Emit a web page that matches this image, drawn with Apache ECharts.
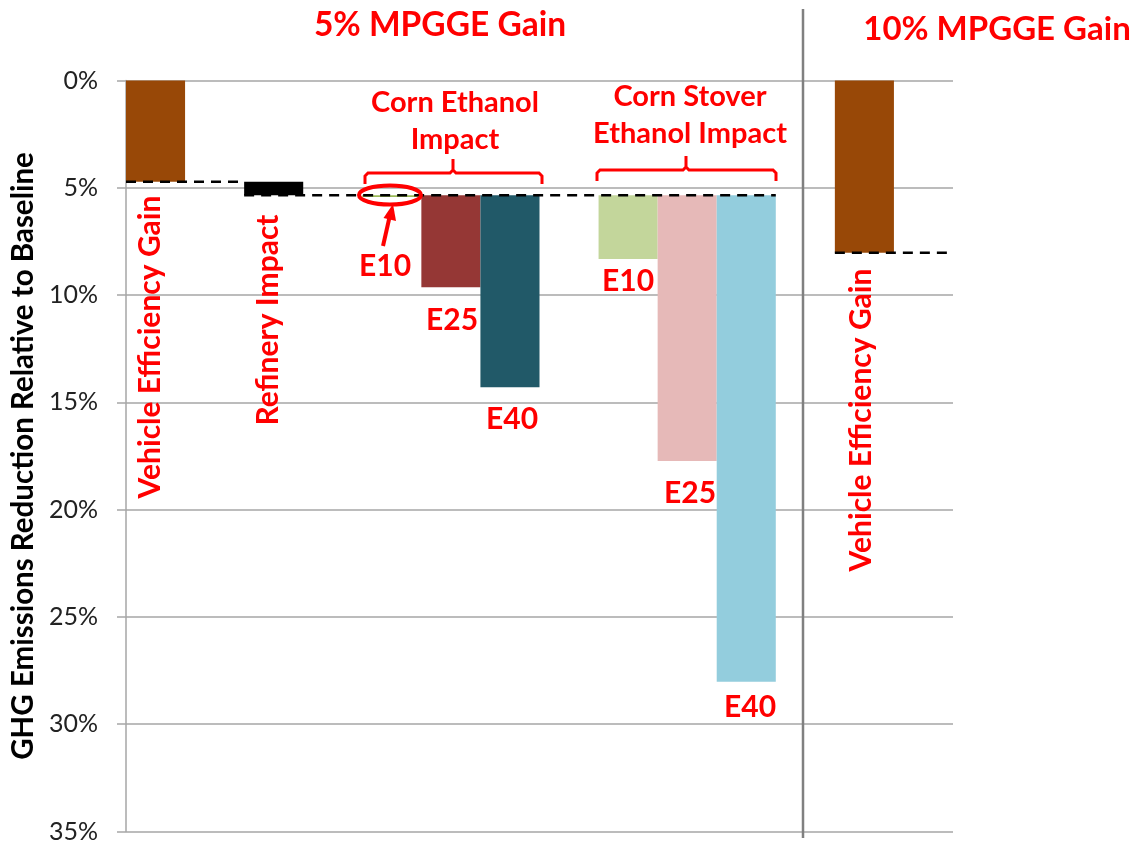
<!DOCTYPE html>
<html>
<head>
<meta charset="utf-8">
<script src="https://cdn.jsdelivr.net/npm/echarts@6/dist/echarts.min.js"></script>
<style>
html,body{margin:0;padding:0;background:#fff;}
#main{width:1134px;height:850px;}
</style>
</head>
<body>
<div id="main"></div>
<script>
// Slots along the x axis (14 equal slots; empty strings are spacer slots)
const categories = ['VEG5', '', 'Refinery', '', 'CornE10', 'CornE25', 'CornE40', '', 'StoverE10', 'StoverE25', 'StoverE40', '', 'VEG10', ''];
// Floating-bar start (%) and bar length (%) per slot
const barStart  = [0, null, 4.72, null, 5.35, 5.35, 5.35, null, 5.35, 5.35, 5.35, null, 0, null];
const barLength = [4.72, null, 0.63, null, 0.08, 4.29, 8.95, null, 2.97, 12.38, 22.67, null, 8.03, null];
const barColors = ['#984807', null, '#000000', null, '#9BBB59', '#953735', '#215968', null, '#C3D69B', '#E6B9B8', '#93CDDD', null, '#984807', null];
// Dashed reference levels: [fromSlot, toSlot, level %]
const refLines = [[0, 2, 4.72], [2, 11, 5.35], [12, 14, 8.03]];
const yTicks = [0, 5, 10, 15, 20, 25, 30, 35];

const chart = echarts.init(document.getElementById('main'));
const RED = '#FF0000';
const FONT = 'Lato, "Open Sans", sans-serif';

const lineSeries = refLines.map(r => ({
  type: 'line', xAxisIndex: 1, yAxisIndex: 0, symbol: 'none', z: 5, silent: true,
  lineStyle: {color: '#000', width: 2.5, type: [10, 7]},
  data: [[r[0], r[2]], [r[1], r[2]]]
}));

const t = (text, x, y, size, extra) => Object.assign({
  type: 'text', x: x, y: y, z: 100,
  style: {text: text, fill: RED, font: 'bold ' + size + 'px ' + FONT, align: 'center', verticalAlign: 'middle', lineHeight: 37}
}, extra || {});

chart.setOption({
  animation: false,
  grid: {left: 126, right: 181, top: 80.5, bottom: 18.5, containLabel: false, outerBoundsMode: 'none'},
  xAxis: [
    {type: 'category', data: categories, axisLine: {show: false}, axisTick: {show: false}, axisLabel: {show: false}},
    {type: 'value', min: 0, max: 14, show: false}
  ],
  yAxis: {
    type: 'value', inverse: true, min: yTicks[0], max: yTicks[yTicks.length - 1], interval: 5,
    name: 'GHG Emissions Reduction Relative to Baseline', nameLocation: 'middle', nameGap: 87, nameRotate: 90,
    nameTextStyle: {fontFamily: FONT, fontWeight: 'bold', fontSize: 29.5, color: '#000'},
    axisLine: {show: true, lineStyle: {color: '#a6a6a6', width: 1.5}},
    axisTick: {show: true, length: 9, lineStyle: {color: '#a6a6a6', width: 1.5}},
    axisLabel: {formatter: '{value}%', fontFamily: FONT, fontSize: 25, color: '#222', margin: 28},
    splitLine: {lineStyle: {color: '#a6a6a6', width: 1.5}}
  },
  series: [
    {type: 'bar', stack: 'w', barCategoryGap: '0%', silent: true,
     itemStyle: {color: 'transparent'}, data: barStart},
    {type: 'bar', stack: 'w', barCategoryGap: '0%', silent: true,
     data: barLength.map((v, i) => v == null ? null : {value: v, itemStyle: {color: barColors[i]}})}
  ].concat(lineSeries),
  graphic: [
    {type: 'line', z: 50, shape: {x1: 803, y1: 9, x2: 803, y2: 838}, style: {stroke: '#808080', lineWidth: 2.5}},
    t('5% MPGGE Gain', 440, 25, 33.5),
    t('10% MPGGE Gain', 997, 29, 33),
    t('Corn Ethanol\nImpact', 455, 121.5, 29),
    t('Corn Stover\nEthanol Impact', 690, 115.5, 29),
    {type: 'polyline', z: 100, shape: {points: [[365, 184], [365, 176], [368, 173], [450, 173], [453, 170], [453, 159], [453, 170], [456, 173], [539, 173], [542, 176], [542, 184]]}, style: {stroke: RED, lineWidth: 3, fill: null}},
    {type: 'polyline', z: 100, shape: {points: [[597, 181], [597, 173], [600, 170], [683, 170], [686, 167], [686, 156], [686, 167], [689, 170], [773, 170], [776, 173], [776, 181]]}, style: {stroke: RED, lineWidth: 3, fill: null}},
    {type: 'ellipse', z: 100, shape: {cx: 390, cy: 195, rx: 31, ry: 9.5}, style: {stroke: RED, lineWidth: 4, fill: null}},
    {type: 'line', z: 100, shape: {x1: 383, y1: 246, x2: 390, y2: 215}, style: {stroke: RED, lineWidth: 4}},
    {type: 'polygon', z: 100, shape: {points: [[393, 204], [383.5, 218], [396, 221]]}, style: {fill: RED}},
    t('E10', 385, 266, 30),
    t('E25', 452, 320, 30),
    t('E40', 512, 419, 30),
    t('E10', 628, 281, 30),
    t('E25', 690, 493, 30),
    t('E40', 750, 707, 30),
    t('Vehicle Efficiency Gain', 150, 347, 30, {rotation: Math.PI / 2}),
    t('Refinery Impact', 268, 320, 30, {rotation: Math.PI / 2}),
    t('Vehicle Efficiency Gain', 861, 420, 30, {rotation: Math.PI / 2})
  ]
});
</script>
</body>
</html>
